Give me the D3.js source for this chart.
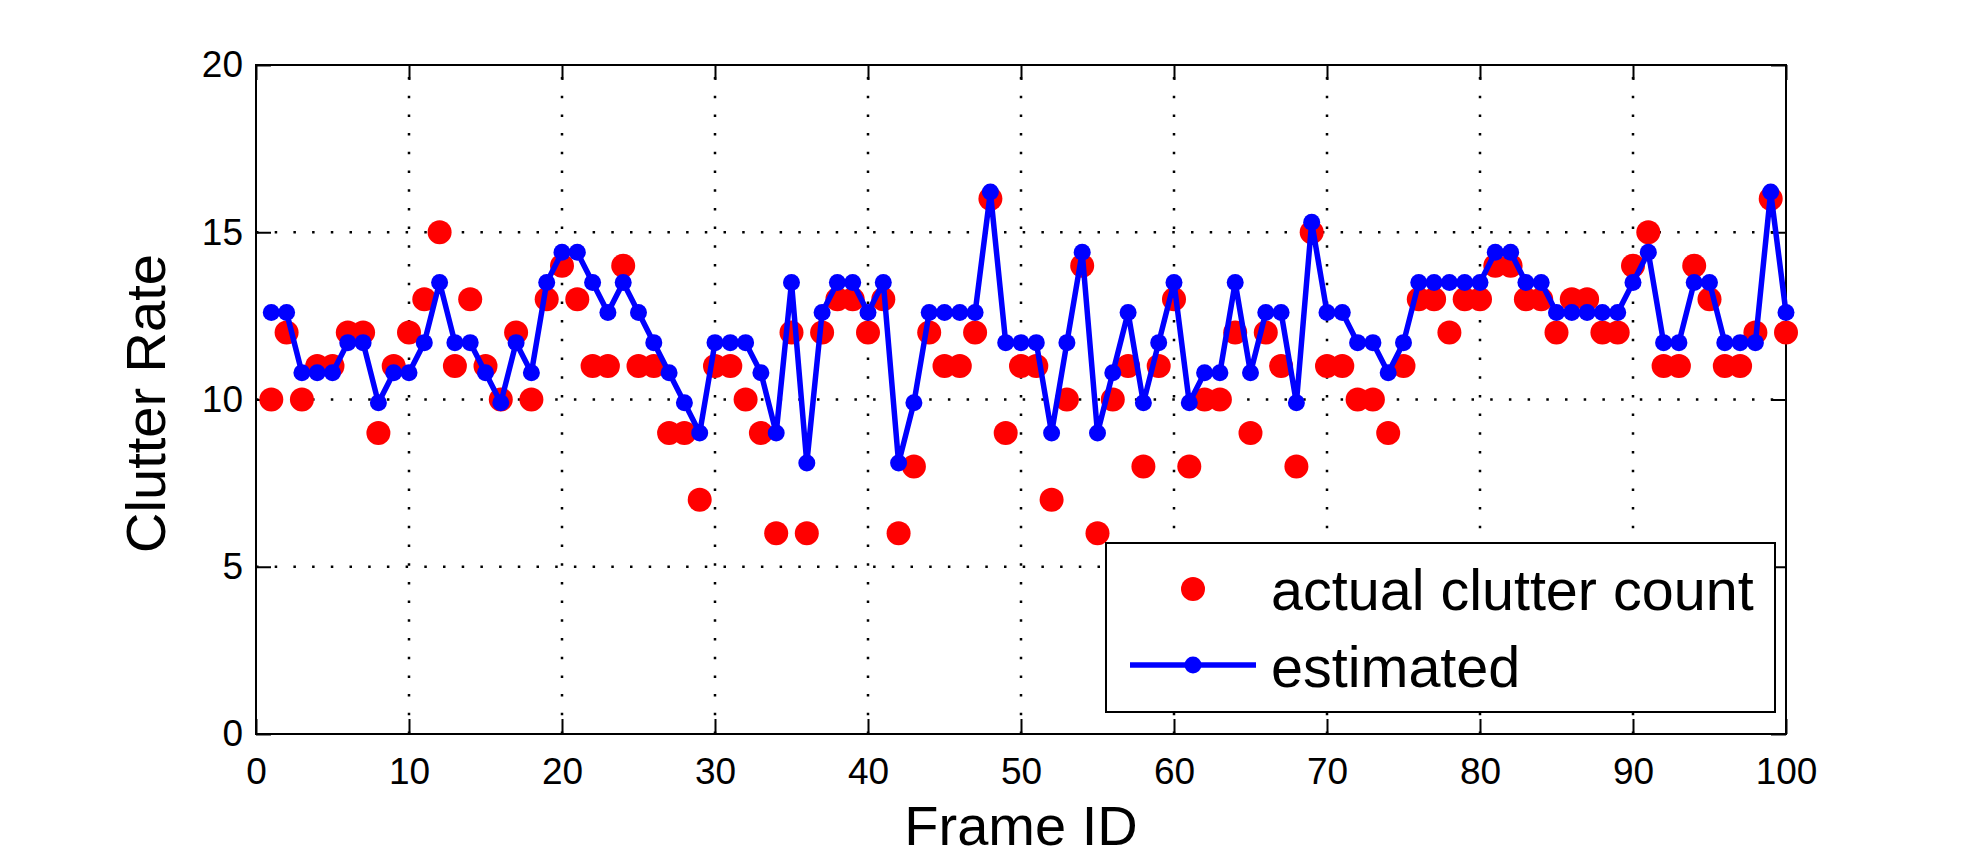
<!DOCTYPE html>
<html>
<head>
<meta charset="utf-8">
<script src="https://cdn.jsdelivr.net/npm/d3@7/dist/d3.min.js"></script>
<style>
  body { margin: 0; background: #fff; }
  text { font-family: "Liberation Sans", Arial, Helvetica, sans-serif; }
</style>
</head>
<body>
<script>
    // Frame IDs 1..100
    const frames = d3.range(1, 101);

    // actual clutter count per frame (red dots)
    const actual = [
      10, 12, 10, 11, 11, 12, 12, 9, 11, 12,
      13, 15, 11, 13, 11, 10, 12, 10, 13, 14,
      13, 11, 11, 14, 11, 11, 9, 9, 7, 11,
      11, 10, 9, 6, 12, 6, 12, 13, 13, 12,
      13, 6, 8, 12, 11, 11, 12, 16, 9, 11,
      11, 7, 10, 14, 6, 10, 11, 8, 11, 13,
      8, 10, 10, 12, 9, 12, 11, 8, 15, 11,
      11, 10, 10, 9, 11, 13, 13, 12, 13, 13,
      14, 14, 13, 13, 12, 13, 13, 12, 12, 14,
      15, 11, 11, 14, 13, 11, 11, 12, 16, 12
    ];

    // estimated clutter rate per frame (blue line)
    const estimated = [
      12.6, 12.6, 10.8, 10.8, 10.8, 11.7, 11.7, 9.9, 10.8, 10.8,
      11.7, 13.5, 11.7, 11.7, 10.8, 9.9, 11.7, 10.8, 13.5, 14.4,
      14.4, 13.5, 12.6, 13.5, 12.6, 11.7, 10.8, 9.9, 9.0, 11.7,
      11.7, 11.7, 10.8, 9.0, 13.5, 8.1, 12.6, 13.5, 13.5, 12.6,
      13.5, 8.1, 9.9, 12.6, 12.6, 12.6, 12.6, 16.2, 11.7, 11.7,
      11.7, 9.0, 11.7, 14.4, 9.0, 10.8, 12.6, 9.9, 11.7, 13.5,
      9.9, 10.8, 10.8, 13.5, 10.8, 12.6, 12.6, 9.9, 15.3, 12.6,
      12.6, 11.7, 11.7, 10.8, 11.7, 13.5, 13.5, 13.5, 13.5, 13.5,
      14.4, 14.4, 13.5, 13.5, 12.6, 12.6, 12.6, 12.6, 12.6, 13.5,
      14.4, 11.7, 11.7, 13.5, 13.5, 11.7, 11.7, 11.7, 16.2, 12.6
    ];

    const xTicks = [0, 10, 20, 30, 40, 50, 60, 70, 80, 90, 100];
    const yTicks = [0, 5, 10, 15, 20];
    const legendLabels = ["actual clutter count", "estimated"];

    // SVG dimensions
    const width = 1971;
    const height = 863;
    const margin = { left: 256, right: 185, top: 65, bottom: 129 };
    const plotW = width - margin.left - margin.right;
    const plotH = height - margin.top - margin.bottom;

    const svg = d3.select("body")
      .append("svg")
      .attr("width", width)
      .attr("height", height);

    svg.append("rect")
      .attr("width", width)
      .attr("height", height)
      .attr("fill", "#fff");

    const g = svg.append("g")
      .attr("transform", `translate(${margin.left},${margin.top})`);

    // Scales
    const x = d3.scaleLinear().domain([0, 100]).range([0, plotW]);
    const y = d3.scaleLinear().domain([0, 20]).range([plotH, 0]);

    // Dotted grid
    const grid = g.append("g")
      .attr("stroke", "#000")
      .attr("stroke-width", 2.5)
      .attr("stroke-dasharray", "2.5,16.2");

    grid.selectAll(".vgrid")
      .data(xTicks.slice(1, -1))
      .enter()
      .append("line")
      .attr("x1", d => x(d))
      .attr("x2", d => x(d))
      .attr("y1", plotH)
      .attr("y2", 0);

    grid.selectAll(".hgrid")
      .data(yTicks.slice(1, -1))
      .enter()
      .append("line")
      .attr("x1", 0)
      .attr("x2", plotW)
      .attr("y1", d => y(d))
      .attr("y2", d => y(d));

    // Axes: inward ticks on all four sides
    function styleAxis(sel) {
      sel.select(".domain").remove();
      sel.selectAll(".tick line").attr("stroke", "#000").attr("stroke-width", 2);
      sel.selectAll("text")
        .attr("fill", "#000")
        .attr("font-size", 37)
        .style("font-family", '"Liberation Sans", Arial, sans-serif');
    }

    g.append("g")
      .attr("transform", `translate(0,${plotH})`)
      .call(d3.axisBottom(x).tickValues(xTicks).tickSize(-15).tickPadding(24))
      .call(styleAxis);

    g.append("g")
      .call(d3.axisTop(x).tickValues(xTicks).tickSize(-15).tickFormat(""))
      .call(styleAxis);

    g.append("g")
      .call(d3.axisLeft(y).tickValues(yTicks).tickSize(-15).tickPadding(13))
      .call(styleAxis);

    g.append("g")
      .attr("transform", `translate(${plotW},0)`)
      .call(d3.axisRight(y).tickValues(yTicks).tickSize(-15).tickFormat(""))
      .call(styleAxis);

    // Box
    g.append("rect")
      .attr("width", plotW)
      .attr("height", plotH)
      .attr("fill", "none")
      .attr("stroke", "#000")
      .attr("stroke-width", 2);

    // Actual clutter count (red dots)
    g.append("g")
      .selectAll("circle")
      .data(frames)
      .enter()
      .append("circle")
      .attr("cx", (d, i) => x(d))
      .attr("cy", (d, i) => y(actual[i]))
      .attr("r", 12)
      .attr("fill", "#ff0000");

    // Estimated (blue line + dots)
    const line = d3.line()
      .x((d, i) => x(d))
      .y((d, i) => y(estimated[i]));

    g.append("path")
      .datum(frames)
      .attr("d", line)
      .attr("fill", "none")
      .attr("stroke", "#0000ff")
      .attr("stroke-width", 5.5)
      .attr("stroke-linejoin", "round");

    g.append("g")
      .selectAll("circle")
      .data(frames)
      .enter()
      .append("circle")
      .attr("cx", (d, i) => x(d))
      .attr("cy", (d, i) => y(estimated[i]))
      .attr("r", 8.5)
      .attr("fill", "#0000ff");

    // Axis labels
    svg.append("text")
      .attr("x", margin.left + plotW / 2)
      .attr("y", 845)
      .attr("text-anchor", "middle")
      .attr("font-size", 56)
      .text("Frame ID");

    svg.append("text")
      .attr("transform", `translate(165,${margin.top + plotH / 2 + 4}) rotate(-90)`)
      .attr("text-anchor", "middle")
      .attr("font-size", 56)
      .text("Clutter Rate");

    // Legend
    const legend = svg.append("g");

    legend.append("rect")
      .attr("x", 1106)
      .attr("y", 543)
      .attr("width", 669)
      .attr("height", 169)
      .attr("fill", "#fff")
      .attr("stroke", "#000")
      .attr("stroke-width", 2);

    legend.append("circle")
      .attr("cx", 1193)
      .attr("cy", 589)
      .attr("r", 12)
      .attr("fill", "#ff0000");

    legend.append("line")
      .attr("x1", 1130)
      .attr("x2", 1256)
      .attr("y1", 665)
      .attr("y2", 665)
      .attr("stroke", "#0000ff")
      .attr("stroke-width", 5.5);

    legend.append("circle")
      .attr("cx", 1193)
      .attr("cy", 665)
      .attr("r", 8.5)
      .attr("fill", "#0000ff");

    legend.selectAll("text")
      .data(legendLabels)
      .enter()
      .append("text")
      .attr("x", 1271)
      .attr("y", (d, i) => 610 + i * 77)
      .attr("font-size", 57.5)
      .text(d => d);
</script>
</body>
</html>
